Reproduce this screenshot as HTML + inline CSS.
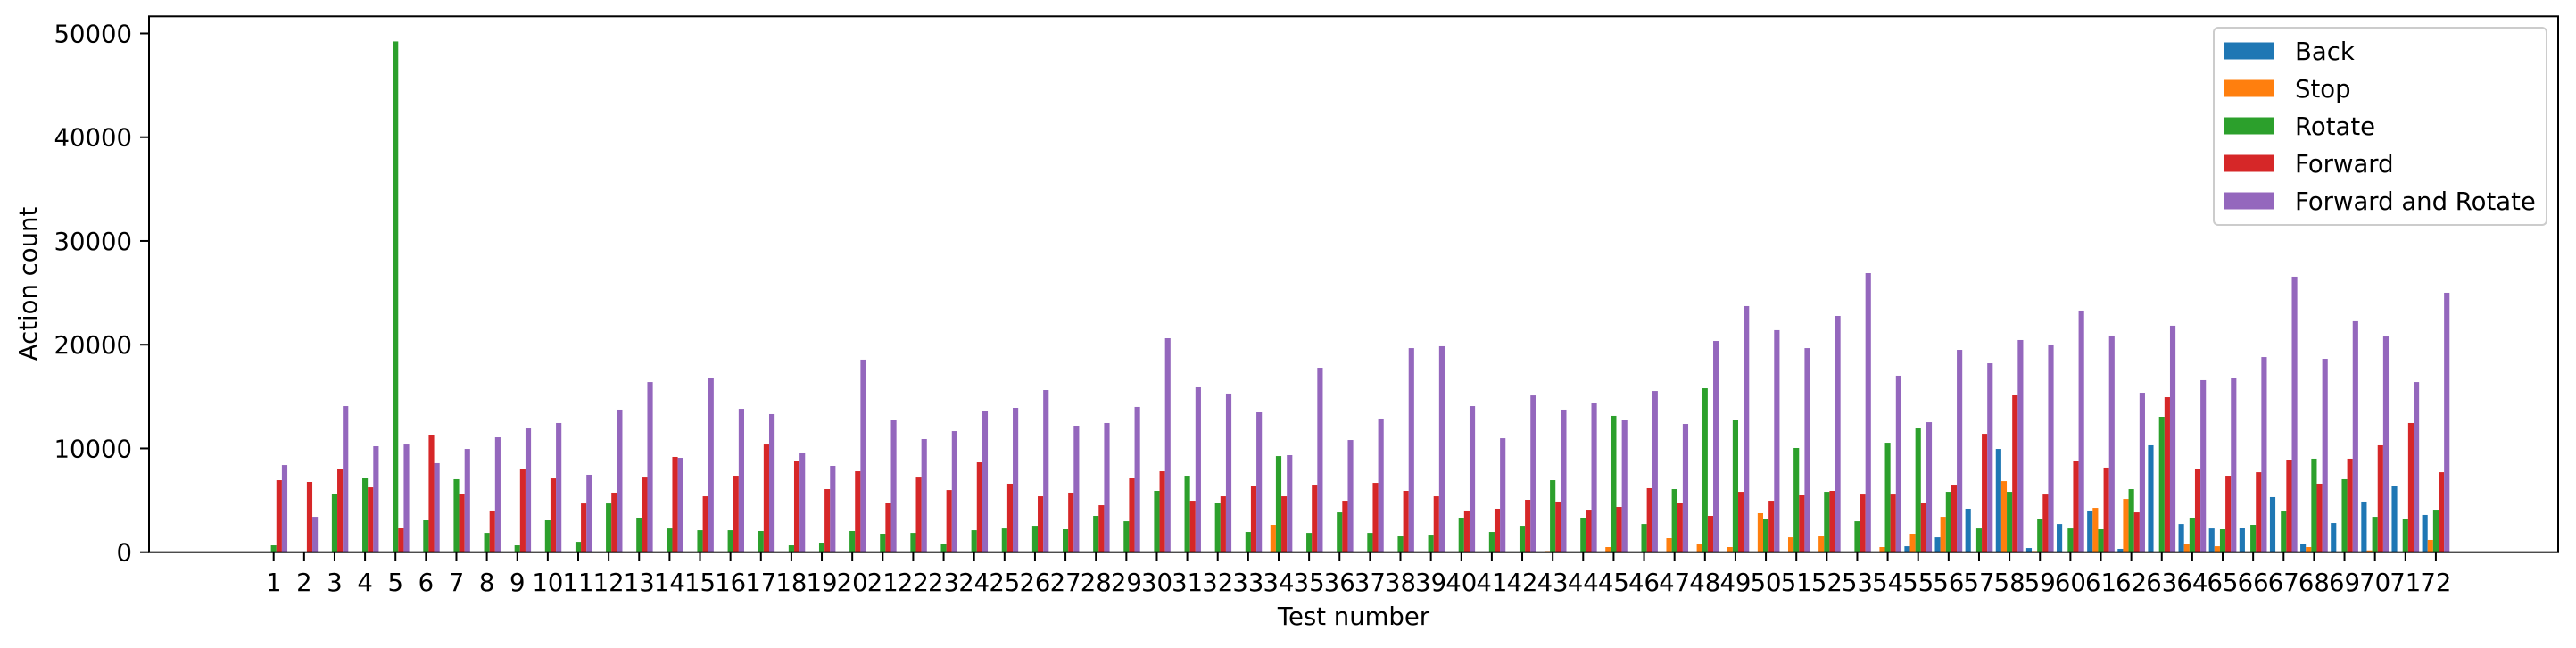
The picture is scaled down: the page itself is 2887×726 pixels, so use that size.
<!DOCTYPE html>
<html><head><meta charset="utf-8">
<style>
html,body{margin:0;padding:0;background:#fff;}
svg{display:block;font-family:"DejaVu Sans","Liberation Sans",sans-serif;}
</style></head>
<body>
<svg id="chart" width="2887" height="726" viewBox="0 0 2887 726" xmlns="http://www.w3.org/2000/svg">
<rect x="0" y="0" width="2887" height="726" fill="#fff"/>
<g id="bars"></g>
<g id="axes"></g>
<g id="legend"></g>
</svg>
<script>
const categories = Array.from({length:72},(_,i)=>String(i+1));
const seriesNames = ["Back","Stop","Rotate","Forward","Forward and Rotate"];
const seriesColors = ["#1f77b4","#ff7f0e","#2ca02c","#d62728","#9467bd"];
const backVals = [0,0,0,0,0,0,0,0,0,0,0,0, 0,0,0,0,0,0,0,0,0,0,0,0, 0,0,0,0,0,0,0,0,0,0,0,0, 0,0,0,0,0,0,0,0,0,0,0,0,
 0,0,0,0,0,0,570,1430,4190,9950,400,2720, 4020,320,10300,2720,2290,2380,5310,750,2810,4880,6340,3590];
const stopVals = [0,0,0,0,0,0,0,0,0,0,0,0, 0,0,0,0,0,0,0,0,0,0,0,0, 0,0,0,0,0,0,0,0,0,2640,0,0, 0,0,0,0,0,0,110,0,490,0,1350,750,
 490,3760,1430,1520,0,490,1780,3410,0,6850,110,0, 4270,5130,0,750,570,0,0,490,0,170,0,1180];
const rotateVals = [660,0,5650,7200,49230,3070,7030,1860,660,3070,1000,4700, 3330,2290,2120,2120,2040,660,920,2040,1780,1860,830,2120,
 2290,2550,2210,3500,2980,5910,7370,4790,1950,9260,1860,3840, 1860,1520,1690,3330,1950,2550,6940,3330,13140,2720,6080,15800,
 12710,3240,10040,5820,2980,10550,11930,5820,2290,5820,3240,2290, 2210,6080,13050,3330,2210,2640,3930,9010,7030,3410,3240,4100];
const forwardVals = [6940,6770,8060,6250,2380,11330,5650,4020,8060,7110,4700,5740, 7280,9180,5390,7370,10380,8750,6080,7800,4790,7280,5990,8660,
 6600,5390,5740,4530,7200,7800,4960,5390,6420,5390,6510,4960, 6680,5910,5390,4020,4190,5050,4880,4100,4360,6170,4790,3500,
 5820,4960,5480,5910,5560,5560,4790,6510,11410,15200,5560,8830, 8150,3840,14940,8060,7370,7710,8920,6600,9010,10300,12450,7710];
const fwdRotVals = [8400,3410,14080,10210,10380,8580,9950,11070,11930,12450,7460,13740, 16400,9090,16830,13820,13310,9610,8320,18560,12710,10900,11670,13650,
 13910,15630,12190,12450,14000,20620,15890,15290,13480,9350,17780,10810, 12880,19670,19850,14080,10980,15110,13740,14340,12790,15540,12360,20360,
 23720,21400,19670,22770,26900,17010,12530,19500,18210,20450,20020,23290, 20880,15370,21830,16580,16830,18810,26560,18640,22260,20790,16400,25010];
const yTicks = [0,10000,20000,30000,40000,50000];
const allSeries = [backVals,stopVals,rotateVals,forwardVals,fwdRotVals];

const NS="http://www.w3.org/2000/svg";
const L=167, R=2867, T=18.3, B=618.7;
const x0=306.7, step=34.13, bw=6.14;
const ymax=51650;
function xPos(i){return x0+i*step;}
function yPos(v){return B-(v/ymax)*(B-T);}
function mk(tag,attrs,parent){const e=document.createElementNS(NS,tag);for(const k in attrs)e.setAttribute(k,attrs[k]);parent.appendChild(e);return e;}

const gb=document.getElementById('bars');
for(let s=0;s<allSeries.length;s++){
  const vals=allSeries[s];
  for(let i=0;i<categories.length;i++){
    const v=vals[i]; if(!v) continue;
    const cx=xPos(i)+(s-2)*bw;
    const r=mk('rect',{x:(cx-bw/2).toFixed(2),y:yPos(v).toFixed(2),width:bw.toFixed(2),height:(B-yPos(v)).toFixed(2),fill:seriesColors[s]},gb);
    
    
  }
}

const ga=document.getElementById('axes');
const frame=mk('rect',{x:L,y:T,width:R-L,height:B-T,fill:'none',stroke:'#000','stroke-width':2},ga);


for(const t of yTicks){
  const y=yPos(t);
  mk('line',{x1:L-10,x2:L,y1:y,y2:y,stroke:'#000','stroke-width':2},ga);
  const tx=mk('text',{x:L-19,y:y+10,'text-anchor':'end','font-size':27.5,fill:'#000'},ga);
  tx.textContent=String(t);
  
  
}
for(let i=0;i<categories.length;i++){
  const x=xPos(i);
  mk('line',{x1:x,x2:x,y1:B,y2:B+10,stroke:'#000','stroke-width':2},ga);
  const tx=mk('text',{x:x,y:662,'text-anchor':'middle','font-size':27.5,fill:'#000'},ga);
  tx.textContent=categories[i];
  
  
}
const xt=mk('text',{x:(L+R)/2,y:700,'text-anchor':'middle','font-size':27.5,fill:'#000'},ga);
xt.textContent='Test number';


const yt=mk('text',{x:0,y:0,'text-anchor':'middle','font-size':27.5,fill:'#000',transform:'translate(41,318) rotate(-90)'},ga);
yt.textContent='Action count';



const gl=document.getElementById('legend');
const lb=mk('rect',{x:2481,y:31,width:373,height:221,rx:5,fill:'#fff','fill-opacity':0.8,stroke:'#ccc','stroke-width':2},gl);


for(let s=0;s<seriesNames.length;s++){
  const cy=57+s*42;
  const p=mk('rect',{x:2492,y:cy-9.5,width:56,height:19,fill:seriesColors[s]},gl);
  
  
  const tx=mk('text',{x:2572,y:cy+10,'font-size':27.5,fill:'#000'},gl);
  tx.textContent=seriesNames[s];
  
  
}
</script>
</body></html>
